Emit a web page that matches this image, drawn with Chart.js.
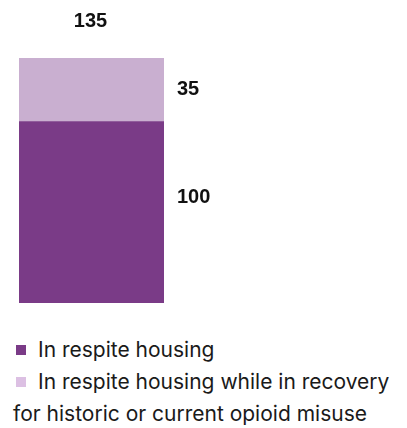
<!DOCTYPE html>
<html>
<head>
<meta charset="utf-8">
<script src="https://cdn.jsdelivr.net/npm/chart.js@4/dist/chart.umd.min.js"></script>
<style>
  html, body { margin: 0; padding: 0; background: #fff; }
  #wrap { position: relative; width: 407px; height: 428px; }
  #chart { position: absolute; left: 0; top: 0; }
  #legend { position: absolute; left: 13px; top: 334px; width: 392px; font-family: "Inter", sans-serif; font-size: 21px; color: #1a1a1a; }
  .item { line-height: 32px; }
  .sw { display: inline-block; width: 10px; height: 10px; margin: 0 12px 0 3px; vertical-align: 2px; }
</style>
</head>
<body>
<div id="wrap">
  <canvas id="chart"></canvas>
  <div id="legend"></div>
</div>
<script>
const categories = ['Total'];
const seriesNames = ['In respite housing', 'In respite housing while in recovery for historic or current opioid misuse'];
const respite = [100];
const recovery = [35];
const totals = [135];
const barColors = ['#7a3b87', '#c9afd0'];
const swatchColors = ['#7a3b87', '#dcc0e3'];

const canvas = document.getElementById('chart');
canvas.width = 407;
canvas.height = 320;

// small vertical nudge for each segment label, as in the original layout
const labelNudge = [-15, 0];

const valueLabels = {
  id: 'valueLabels',
  afterDatasetsDraw(chart) {
    const ctx = chart.ctx;
    ctx.save();
    ctx.fillStyle = '#111';
    ctx.font = 'bold 20px "Liberation Sans", Arial, sans-serif';
    ctx.textBaseline = 'middle';
    chart.data.datasets.forEach((ds, i) => {
      const bar = chart.getDatasetMeta(i).data[0];
      const mid = (bar.y + bar.base) / 2 + labelNudge[i];
      ctx.textAlign = 'left';
      ctx.fillText(String(ds.data[0]), bar.x + bar.width / 2 + 13, mid);
    });
    const top = chart.getDatasetMeta(1).data[0];
    ctx.textAlign = 'center';
    ctx.fillText(String(totals[0]), top.x - 1, top.y - 37);
    ctx.restore();
  }
};

new Chart(canvas, {
  type: 'bar',
  data: {
    labels: categories,
    datasets: [
      { label: seriesNames[0], data: respite, backgroundColor: barColors[0] },
      { label: seriesNames[1], data: recovery, backgroundColor: barColors[1] }
    ]
  },
  options: {
    responsive: false,
    animation: false,
    layout: { padding: { left: 19, right: 243, top: 58, bottom: 17 } },
    plugins: { legend: { display: false }, tooltip: { enabled: false } },
    scales: {
      x: { stacked: true, display: false },
      y: { stacked: true, display: false, min: 0, max: 135 }
    },
    datasets: { bar: { barPercentage: 1, categoryPercentage: 1 } }
  },
  plugins: [valueLabels]
});

const legend = document.getElementById('legend');
seriesNames.forEach((name, i) => {
  const div = document.createElement('div');
  div.className = 'item';
  div.innerHTML = '<span class="sw" style="background:' + swatchColors[i] + '"></span>' + name;
  legend.appendChild(div);
});
</script>
</body>
</html>
